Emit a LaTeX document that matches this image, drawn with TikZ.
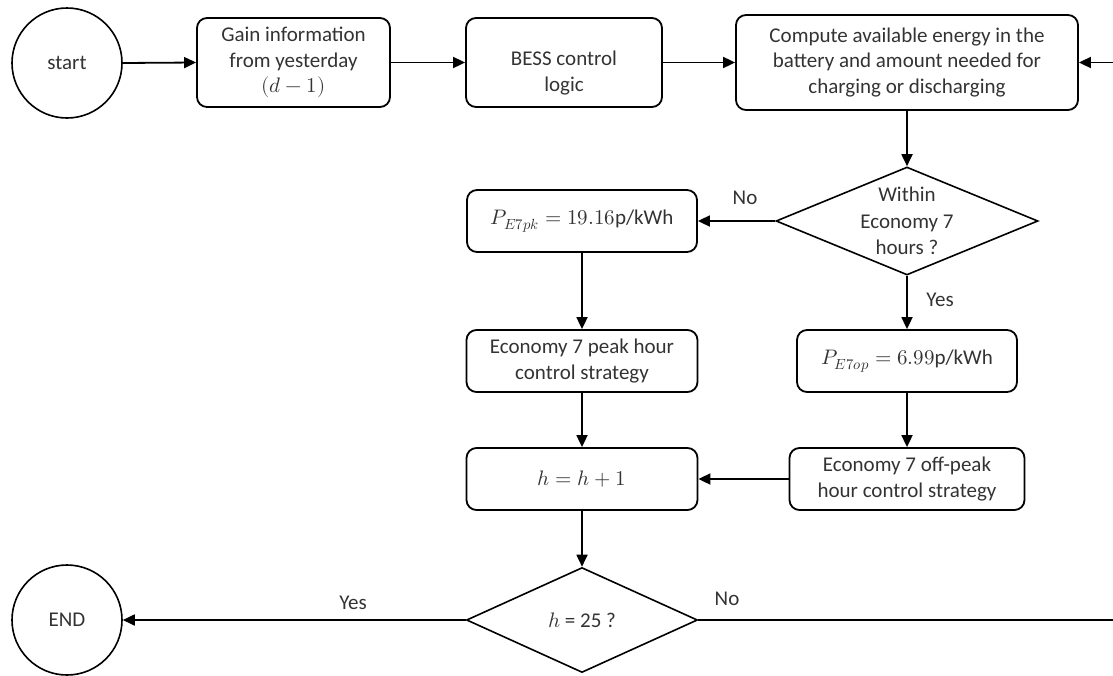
\documentclass[tikz,border=0pt]{standalone}
\usepackage{fontspec}
\usepackage{unicode-math}
\setmainfont{Carlito}
\setmathfont{Latin Modern Math}
\usetikzlibrary{arrows.meta,shapes.geometric}
\begin{document}
\begin{tikzpicture}[x=1pt,y=-1pt,
  every node/.style={font=\fontsize{21}{25.5}\selectfont, text=black!80},
  box/.style={draw=black, line width=1.8pt, rounded corners=10pt, inner sep=0pt, align=center},
  term/.style={draw=black, circle, line width=1.6pt, minimum size=110pt, inner sep=0pt},
  dia/.style={draw=black, diamond, line width=1.6pt, inner sep=0pt},
  arr/.style={line width=1.8pt, -{Triangle[length=12pt,width=11pt]}},
  lbl/.style={inner sep=0pt}]
\useasboundingbox (0,0) rectangle (1113,675);

% nodes
\node[term] (start) at (67,63) {start};
\node[box, minimum width=193pt, minimum height=89pt] (gain) at (293.5,62.5)
  {Gain information\\from yesterday\\$(d-1)$};
\node[box, minimum width=196pt, minimum height=89pt] (bess) at (564,62.5) {};
\node[align=center, inner sep=0pt] (besst) at (564,73) {BESS control\\logic};
\node[box, minimum width=342pt, minimum height=95pt] (comp) at (907,62.5)
  {Compute available energy in the\\battery and amount needed for\\charging or discharging};
\node[dia, minimum width=262pt, minimum height=108pt] (within) at (907,221) {};
\node[align=center, inner sep=0pt, font=\fontsize{21}{26.5}\selectfont] (withint) at (907,221)
  {Within\\Economy 7\\hours ?};
\node[box, minimum width=230pt, minimum height=62pt] (pk) at (582,221)
  {$P_{E7pk}=19.16$p/kWh};
\node[box, minimum width=231pt, minimum height=62pt] (peak) at (582,361)
  {Economy 7 peak hour\\control strategy};
\node[box, minimum width=220pt, minimum height=62pt] (op) at (907,361)
  {$P_{E7op}=6.99$p/kWh};
\node[box, minimum width=231pt, minimum height=62pt] (hh) at (582,479)
  {$h=h+1$};
\node[box, minimum width=235pt, minimum height=62pt] (off) at (907,479)
  {Economy 7 off-peak\\hour control strategy};
\node[dia, minimum width=231pt, minimum height=105pt] (h25) at (582,620) {};
\node[inner sep=0pt] (h25t) at (582,620) {$h$ = 25 ?};
\node[term] (end) at (67,620) {END};
\coordinate (loop) at (1125,620);

% connectors
\draw[arr] (start.east) -- (gain.west);
\draw[arr] (gain.east) -- (bess.west);
\draw[arr] (bess.east) -- (comp.west);
\draw[arr] (comp.south) -- (within.north);
\draw[arr] (within.west) -- (pk.east);
\draw[arr] (within.south) -- (op.north);
\draw[arr] (pk.south) -- (peak.north);
\draw[arr] (op.south) -- (off.north);
\draw[arr] (peak.south) -- (hh.north);
\draw[arr] (off.west) -- (hh.east);
\draw[arr] (hh.south) -- (h25.north);
\draw[arr] (h25.west) -- (end.east);
\draw[arr] (h25.east) -- (loop) |- (comp.east);

% labels
\node[lbl] (lno1) at (745,198) {No};
\node[lbl] (lyes1) at (940,300) {Yes};
\node[lbl] (lyes2) at (353,603) {Yes};
\node[lbl] (lno2) at (727,599) {No};
\end{tikzpicture}
\end{document}
